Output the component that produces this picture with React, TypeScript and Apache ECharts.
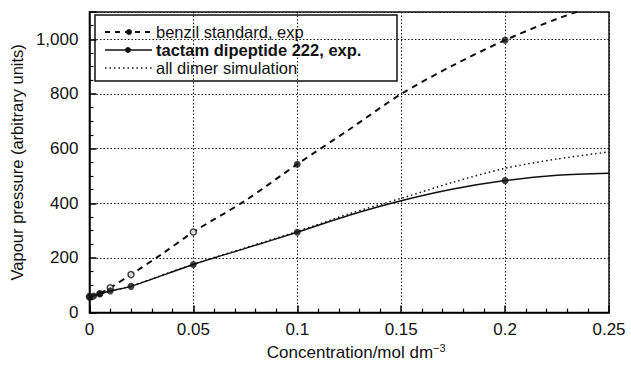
import React, { useEffect, useRef } from "react";
import * as echarts from "echarts";

// Measured points
const lactamConc = [0, 0.002, 0.005, 0.01, 0.02, 0.05, 0.1, 0.2];
const lactamExp = [56, 61, 68, 79, 96, 176, 294, 483];

const benzilFilledConc = [0, 0.005, 0.1, 0.2];
const benzilFilled = [60, 70, 543, 997];
const benzilOpenConc = [0.01, 0.02, 0.05];
const benzilOpen = [91, 139, 295];

// Fitted curves
const benzilCurveConc = [0, 0.005, 0.01, 0.02, 0.035, 0.05, 0.075, 0.1, 0.125, 0.15, 0.175, 0.2, 0.225, 0.25];
const benzilCurve = [60, 70, 91, 139, 215, 295, 410, 543, 670, 800, 905, 997, 1075, 1140];

const lactamCurveConc = [0, 0.002, 0.005, 0.01, 0.02, 0.05, 0.075, 0.1, 0.125, 0.15, 0.175, 0.2, 0.225, 0.25];
const lactamCurve = [56, 61, 68, 79, 96, 176, 235, 294, 356, 409, 452, 483, 503, 510];

const simConc = [0, 0.01, 0.02, 0.05, 0.075, 0.1, 0.125, 0.15, 0.175, 0.2, 0.225, 0.25];
const simCurve = [56, 78, 97, 177, 237, 297, 362, 418, 477, 528, 562, 588];

const legendLabels = ["benzil standard, exp", "tactam dipeptide 222, exp.", "all dimer simulation"];

const zip = (xs: number[], ys: number[]) => xs.map((x, i) => [x, ys[i]]);

const FONT = "Liberation Sans, Arial, sans-serif";

export default function App() {
  const ref = useRef<HTMLDivElement>(null);
  useEffect(() => {
    if (!ref.current) return;
    const chart = echarts.init(ref.current, undefined, { renderer: "svg" });
    const legX1 = 105, legX2 = 152, legTextX = 156;
    const rows = [32, 50, 68];
    chart.setOption({
      animation: false,
      backgroundColor: "#ffffff",
      textStyle: { fontFamily: FONT, color: "#111" },
      grid: {
        left: 88, right: 22, top: 12, bottom: 48,
        show: true, borderColor: "#111", borderWidth: 1.5, backgroundColor: "transparent",
      },
      xAxis: {
        type: "value",
        min: 0, max: 0.25, interval: 0.05,
        name: "Concentration/mol dm{sup|−3}",
        nameLocation: "middle",
        nameGap: 27,
        nameTextStyle: {
          fontFamily: FONT, fontSize: 17, color: "#111", padding: [0, 0, 0, 14],
          rich: { sup: { fontSize: 11, verticalAlign: "top", padding: [0, 0, 9, 0], fontFamily: FONT, color: "#111" } },
        },
        axisLine: { show: true, lineStyle: { color: "#000", width: 1.5 } },
        axisTick: { show: true, inside: true, length: 7, lineStyle: { color: "#000", width: 1.5 } },
        minorTick: { show: true, splitNumber: 5, length: 4, lineStyle: { color: "#000", width: 1.2 } },
        axisLabel: { fontSize: 17, color: "#111", margin: 8, fontFamily: FONT, formatter: (v: number) => String(+v.toFixed(2)) },
        splitLine: { show: true, lineStyle: { color: "#111", type: [1.5, 2], width: 1 } },
        z: 5,
      },
      yAxis: {
        type: "value",
        min: 0, max: 1100, interval: 200,
        name: "Vapour pressure (arbitrary units)",
        nameLocation: "middle",
        nameGap: 62,
        nameTextStyle: { fontFamily: FONT, fontSize: 16.5, color: "#111" },
        axisLine: { show: true, lineStyle: { color: "#000", width: 1.5 } },
        axisTick: { show: true, inside: true, length: 7, lineStyle: { color: "#000", width: 1.5 } },
        minorTick: { show: true, splitNumber: 4, length: 4, lineStyle: { color: "#000", width: 1.2 } },
        axisLabel: {
          fontSize: 17, color: "#111", margin: 11, fontFamily: FONT, showMaxLabel: false,
          formatter: (v: number) => (v > 1000 ? "" : v.toLocaleString("en-US")),
        },
        splitLine: { show: true, lineStyle: { color: "#111", type: [1.5, 2], width: 1 } },
        z: 5,
      },
      series: [
        {
          type: "line", name: "benzil curve", data: zip(benzilCurveConc, benzilCurve),
          showSymbol: false, symbol: "none", smooth: 0.3,
          lineStyle: { color: "#111", width: 2, type: [6, 5] },
          z: 3,
        },
        {
          type: "line", name: "sim curve", data: zip(simConc, simCurve),
          showSymbol: false, symbol: "none", smooth: 0.3,
          lineStyle: { color: "#111", width: 1.5, type: [1.5, 3] },
          z: 3,
        },
        {
          type: "line", name: "lactam curve", data: zip(lactamCurveConc, lactamCurve),
          showSymbol: false, symbol: "none", smooth: 0.3,
          lineStyle: { color: "#111", width: 1.5 },
          z: 3,
        },
        {
          type: "scatter", name: "benzil filled", data: zip(benzilFilledConc, benzilFilled),
          symbol: "circle", symbolSize: 7, itemStyle: { color: "#111" }, z: 6,
        },
        {
          type: "scatter", name: "benzil open", data: zip(benzilOpenConc, benzilOpen),
          symbol: "circle", symbolSize: 6,
          itemStyle: { color: "#fff", borderColor: "#111", borderWidth: 1.5 }, z: 6,
        },
        {
          type: "scatter", name: "lactam exp", data: zip(lactamConc, lactamExp),
          symbol: "circle", symbolSize: 7, itemStyle: { color: "#111" }, z: 6,
        },
      ],
      graphic: [
        {
          type: "group", z: 100,
          children: [
            { type: "rect", shape: { x: 95, y: 15, width: 302, height: 66 }, style: { fill: "#fff", stroke: "#111", lineWidth: 1.5 } },
            { type: "line", shape: { x1: legX1, y1: rows[0], x2: legX2, y2: rows[0] }, style: { stroke: "#111", lineWidth: 2, lineDash: [5, 5] } },
            { type: "circle", shape: { cx: 129, cy: rows[0], r: 3 }, style: { fill: "#111" } },
            { type: "line", shape: { x1: legX1, y1: rows[1], x2: legX2, y2: rows[1] }, style: { stroke: "#111", lineWidth: 1.5 } },
            { type: "circle", shape: { cx: 128, cy: rows[1], r: 3 }, style: { fill: "#111" } },
            { type: "line", shape: { x1: legX1, y1: rows[2], x2: legX2, y2: rows[2] }, style: { stroke: "#111", lineWidth: 1.5, lineDash: [1.5, 3] } },
            { type: "text", x: legTextX, y: rows[0], style: { text: legendLabels[0], fontSize: 16.5, fontFamily: FONT, fill: "#111", verticalAlign: "middle" } },
            { type: "text", x: legTextX, y: rows[1], style: { text: legendLabels[1], fontSize: 16.5, fontWeight: "bold", fontFamily: FONT, fill: "#111", verticalAlign: "middle" } },
            { type: "text", x: legTextX, y: rows[2], style: { text: legendLabels[2], fontSize: 16.5, fontFamily: FONT, fill: "#111", verticalAlign: "middle" } },
          ],
        },
      ],
    });
    return () => chart.dispose();
  }, []);
  return <div ref={ref} style={{ position: "fixed", left: 0, top: 0, width: 631, height: 366 }} />;
}
